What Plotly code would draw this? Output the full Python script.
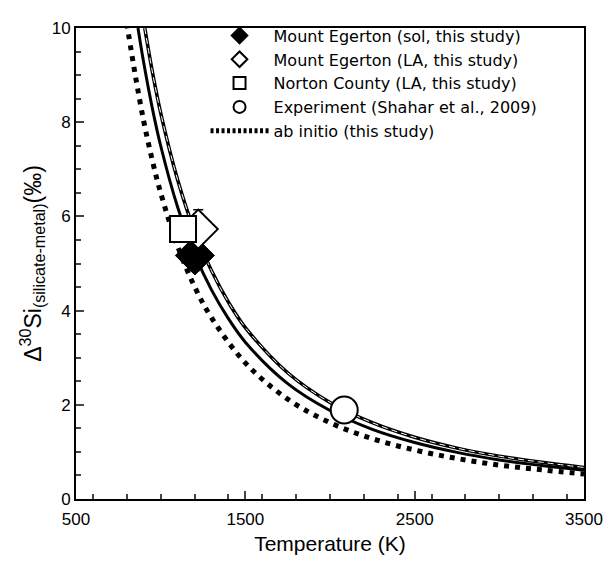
import plotly.graph_objects as go

# fitted curves (K, permil)
temp_lo = [866, 900, 950, 1000, 1100, 1200, 1300, 1400, 1500, 1750, 2000, 2250, 2500, 2750, 3000, 3250, 3500]
delta_lo = [10.0, 9.26, 8.31, 7.5, 6.2, 5.21, 4.44, 3.83, 3.33, 2.45, 1.88, 1.48, 1.2, 0.99, 0.83, 0.71, 0.61]

temp_hi = [906, 950, 1000, 1100, 1200, 1300, 1400, 1500, 1750, 2000, 2250, 2500, 2750, 3000, 3250, 3500]
delta_hi = [10.0, 9.09, 8.2, 6.78, 5.69, 4.85, 4.18, 3.64, 2.68, 2.05, 1.62, 1.31, 1.08, 0.91, 0.78, 0.67]

# ab initio curve
temp_ab = [800, 850, 900, 950, 1000, 1100, 1200, 1300, 1500, 1750, 2000, 2250, 2500, 2750, 3000, 3250, 3500]
delta_ab = [10.1, 9.0, 8.02, 7.2, 6.5, 5.37, 4.51, 3.85, 2.89, 2.12, 1.62, 1.28, 1.04, 0.86, 0.72, 0.62, 0.53]

# measurements
egerton_sol_t = [1202]
egerton_sol_d = [5.17]
egerton_sol_err = [0.32]

egerton_la_t = [1222]
egerton_la_d = [5.73]
egerton_la_err = [0.41]

norton_t = [1132]
norton_d = [5.73]

shahar_t = [2084]
shahar_d = [1.89]

font = "Liberation Sans, Arial, sans-serif"

fig = go.Figure()

# solid band of fits
fig.add_trace(go.Scatter(x=temp_lo, y=delta_lo, mode="lines", line=dict(color="black", width=3, shape="spline"),
                         showlegend=False, hoverinfo="skip"))
fig.add_trace(go.Scatter(x=temp_hi, y=delta_hi, mode="lines", line=dict(color="black", width=3.5, shape="spline"),
                         showlegend=False, hoverinfo="skip"))
fig.add_trace(go.Scatter(x=temp_hi, y=delta_hi, mode="lines", line=dict(color="white", width=1, dash="6px,4px", shape="spline"),
                         showlegend=False, hoverinfo="skip"))

fig.add_trace(go.Scatter(x=temp_ab, y=delta_ab, mode="lines", line=dict(color="black", width=5, dash="5px,6px", shape="spline"),
                         showlegend=False, hoverinfo="skip"))

# error bars only
fig.add_trace(go.Scatter(x=egerton_sol_t, y=egerton_sol_d, mode="markers", marker=dict(size=1, opacity=0),
                         error_y=dict(type="data", array=egerton_sol_err, color="black", thickness=1.5, width=5),
                         showlegend=False, hoverinfo="skip"))
fig.add_trace(go.Scatter(x=egerton_la_t, y=egerton_la_d, mode="markers", marker=dict(size=1, opacity=0),
                         error_y=dict(type="data", array=egerton_la_err, color="black", thickness=1.5, width=5),
                         showlegend=False, hoverinfo="skip"))

fig.add_trace(go.Scatter(x=egerton_sol_t, y=egerton_sol_d, mode="markers", name="Mount Egerton (sol, this study)",
                         marker=dict(symbol="diamond", size=30, color="black", line=dict(color="black", width=1))))
fig.add_trace(go.Scatter(x=egerton_la_t, y=egerton_la_d, mode="markers", name="Mount Egerton (LA, this study)",
                         marker=dict(symbol="diamond", size=30, color="white", line=dict(color="black", width=2))))
fig.add_trace(go.Scatter(x=norton_t, y=norton_d, mode="markers", name="Norton County (LA, this study)",
                         marker=dict(symbol="square", size=26, color="white", line=dict(color="black", width=2))))
fig.add_trace(go.Scatter(x=shahar_t, y=shahar_d, mode="markers", name="Experiment (Shahar et al., 2009)",
                         marker=dict(symbol="circle", size=27, color="white", line=dict(color="black", width=2))))
fig.add_trace(go.Scatter(x=[None], y=[None], mode="lines", name="ab initio (this study)",
                         line=dict(color="black", width=3.5, dash="3px,2.5px")))

# the page body adds an 8px offset, so the figure is drawn 8px smaller with shifted margins
fig.update_layout(
    width=606, height=555,
    margin=dict(l=68, r=21, t=11, b=54),
    plot_bgcolor="white", paper_bgcolor="white",
    font=dict(family=font, size=17, color="black"),
    legend=dict(x=0.255, y=1.02, xanchor="left", yanchor="top", bgcolor="rgba(0,0,0,0)",
                font=dict(size=16, family="DejaVu Sans"), itemsizing="constant", itemwidth=58, tracegroupgap=0),
    xaxis=dict(range=[500, 3500], tick0=500, dtick=1000, ticks="inside", ticklen=8, tickwidth=1.5,
               showline=True, linecolor="black", linewidth=2, mirror=True, showgrid=False, zeroline=False,
               ticklabelstandoff=4,
               minor=dict(dtick=200, ticks="inside", ticklen=5, tickwidth=1.5, showgrid=False),
               title=dict(text="Temperature (K)", font=dict(size=21), standoff=8)),
    yaxis=dict(range=[0, 10], dtick=2, ticks="inside", ticklen=8, tickwidth=1.5,
               showline=True, linecolor="black", linewidth=2, mirror=True, showgrid=False, zeroline=False,
               minor=dict(dtick=0.5, ticks="inside", ticklen=5, tickwidth=1.5, showgrid=False),
               title=dict(text="Δ<sup>30</sup>Si<sub>(silicate-metal)</sub>(‰)", font=dict(size=23), standoff=4)),
)

fig.write_html("out.html")
